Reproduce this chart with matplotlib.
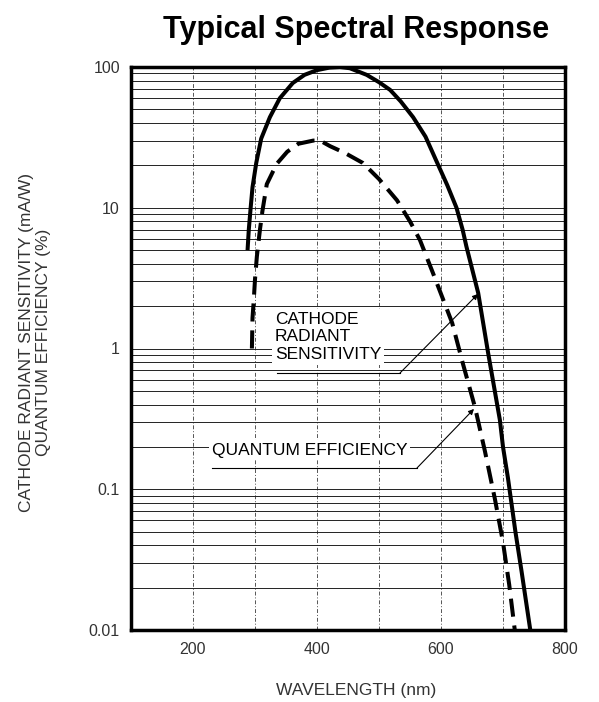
import matplotlib
matplotlib.use('Agg')
import matplotlib.pyplot as plt
import numpy as np
from matplotlib.ticker import LogLocator, NullFormatter

plt.rcParams['font.family'] = ['Liberation Sans', 'DejaVu Sans']

# cathode radiant sensitivity (mA/W), solid curve
crs_nm = [288, 290, 293, 296, 302, 310, 324, 340, 361, 380, 400, 420, 437, 453,
          480, 500, 518, 535, 555, 575, 594, 610, 625, 635, 641, 660, 676, 695,
          700, 708, 720, 730, 744]
crs_val = [5.0, 7.0, 10.0, 14.0, 20.8, 31.0, 44.0, 60.0, 77.0, 88.0, 95.0, 99.0, 100.0, 98.0,
           88.0, 78.0, 68.7, 57.0, 44.0, 32.0, 20.8, 14.5, 10.0, 6.95, 5.3, 2.48, 0.93, 0.31,
           0.2, 0.12, 0.05, 0.026, 0.01]

# quantum efficiency (%), dashed curve
qe_nm = [295, 296, 298, 300, 303, 308, 312, 319, 335, 352, 370, 394, 405, 421, 445,
         474, 500, 529, 550, 566, 587, 618, 635, 655, 671, 687, 700, 710, 719]
qe_val = [1.0, 1.65, 2.2, 3.1, 4.5, 7.0, 9.5, 14.7, 20.5, 25.0, 28.5, 30.0, 30.0, 27.4, 24.5,
          20.8, 16.0, 11.3, 8.0, 5.9, 3.44, 1.52, 0.79, 0.38, 0.185, 0.085, 0.042, 0.021, 0.01]

x_ticks = [200, 400, 600, 800]
x_minor = [300, 500, 700]
y_ticks = [0.01, 0.1, 1, 10, 100]
y_labels = ['0.01', '0.1', '1', '10', '100']

fig = plt.figure(figsize=(5.99, 7.02), dpi=100)
ax = fig.add_axes([131 / 599, 72 / 702, 434 / 599, 563 / 702])

ax.set_xscale('linear')
ax.set_yscale('log')
ax.set_xlim(100, 800)
ax.set_ylim(0.01, 100)

ax.set_xticks(x_ticks)
ax.set_xticks(x_minor, minor=True)
ax.set_yticks(y_ticks, y_labels)
ax.yaxis.set_minor_locator(LogLocator(base=10, subs=np.arange(2, 10)))
ax.yaxis.set_minor_formatter(NullFormatter())

ax.grid(True, which='both', axis='y', color='#222222', lw=0.7)
ax.grid(True, which='both', axis='x', color='#555555', lw=0.7,
        linestyle=(0, (4, 2, 1, 2)))
ax.tick_params(which='both', length=0, labelsize=11.5, labelcolor='#333333')
ax.tick_params(axis='y', pad=8)
ax.tick_params(axis='x', pad=9)

for s in ax.spines.values():
    s.set_linewidth(2.5)

ax.plot(crs_nm, crs_val, color='black', lw=2.9, solid_capstyle='butt', zorder=5)
ax.plot(qe_nm, qe_val, color='black', lw=2.9, linestyle=(0, (4.5, 2.2)), zorder=5)

# labels with leader lines
ax.text(332, 1.21, 'CATHODE\nRADIANT\nSENSITIVITY', fontsize=12.5, va='center',
        ha='left', linespacing=1.22, zorder=6,
        bbox=dict(facecolor='white', edgecolor='none', pad=2))
ax.plot([335.5, 533.9], [0.67, 0.67], color='black', lw=0.8, zorder=6)
ax.annotate('', xy=(659.7, 2.44), xytext=(533.9, 0.67),
            arrowprops=dict(arrowstyle='-|>', color='black', lw=0.8,
                            mutation_scale=8, shrinkA=0, shrinkB=0), zorder=6)

ax.text(230.6, 0.19, 'QUANTUM EFFICIENCY', fontsize=12.5, va='center', ha='left',
        zorder=6, bbox=dict(facecolor='white', edgecolor='none', pad=2))
ax.plot([230.6, 561.3], [0.1416, 0.1416], color='black', lw=0.8, zorder=6)
ax.annotate('', xy=(653.2, 0.372), xytext=(561.3, 0.1416),
            arrowprops=dict(arrowstyle='-|>', color='black', lw=0.8,
                            mutation_scale=8, shrinkA=0, shrinkB=0), zorder=6)

fig.text(356 / 599, 1 - 38 / 702, 'Typical Spectral Response', fontsize=22,
         fontweight='bold', ha='center', va='baseline')
fig.text(35 / 599, 1 - 342 / 702,
         'CATHODE RADIANT SENSITIVITY (mA/W)\nQUANTUM EFFICIENCY (%)',
         rotation=90, ha='center', va='center', fontsize=12.5, color='#333333',
         linespacing=1.15, multialignment='center')
fig.text(356 / 599, 1 - 690 / 702, 'WAVELENGTH (nm)', fontsize=12.5,
         color='#333333', ha='center', va='center')

fig.savefig('out.png', dpi=100)
